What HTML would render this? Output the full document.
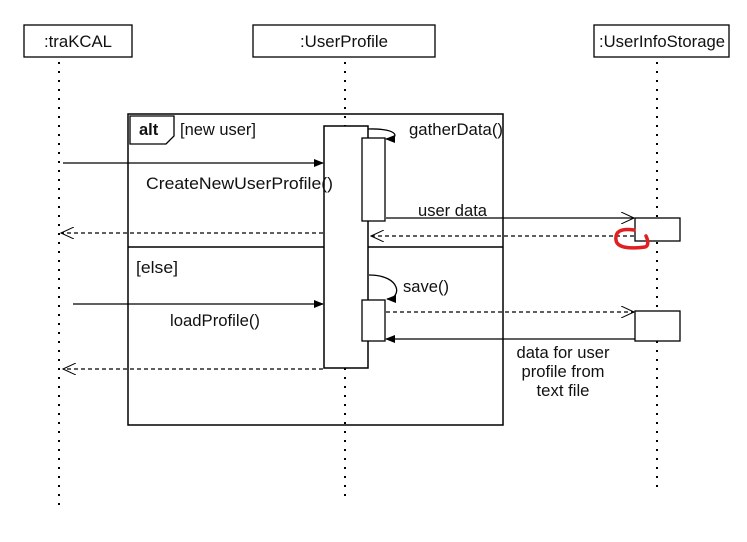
<!DOCTYPE html>
<html><head><meta charset="utf-8"><style>
html,body{margin:0;padding:0;background:#fff;}
svg{display:block;}
text{font-family:"Liberation Sans",Arial,sans-serif;font-size:16.5px;fill:#111;}
</style></head><body>
<svg width="747" height="542" viewBox="0 0 747 542" xmlns="http://www.w3.org/2000/svg">
<defs>
<marker id="fa" markerWidth="10" markerHeight="10" refX="9" refY="5" orient="auto" markerUnits="userSpaceOnUse"><path d="M0,1 L10,5 L0,9 Z" fill="#000"/></marker>
<marker id="oa" markerWidth="14" markerHeight="12" refX="13" refY="6" orient="auto" markerUnits="userSpaceOnUse"><path d="M0,0 L13,6 L0,12" fill="none" stroke="#000" stroke-width="1"/></marker>
</defs>
<g stroke="#000" stroke-width="2" stroke-dasharray="2 7" fill="none">
<line x1="59" y1="62" x2="59" y2="512"/>
<line x1="345" y1="62" x2="345" y2="502"/>
<line x1="657" y1="62" x2="657" y2="488"/>
</g>
<g fill="#fff" stroke="#000" stroke-width="1.3">
<rect x="24" y="25" width="108" height="32"/>
<rect x="253" y="25" width="182" height="32"/>
<rect x="594" y="25" width="135" height="32"/>
</g>
<text x="78" y="47" text-anchor="middle" textLength="68" lengthAdjust="spacingAndGlyphs">:traKCAL</text>
<text x="344" y="47" text-anchor="middle" textLength="88" lengthAdjust="spacingAndGlyphs">:UserProfile</text>
<text x="662" y="47" text-anchor="middle" textLength="126" lengthAdjust="spacingAndGlyphs">:UserInfoStorage</text>
<rect x="128" y="114" width="375" height="311" fill="none" stroke="#000" stroke-width="1.5"/>
<line x1="128" y1="247" x2="503" y2="247" stroke="#000" stroke-width="1.5"/>
<path d="M130,116 L174,116 L174,136 L166,144 L130,144 Z" fill="#fff" stroke="#000" stroke-width="1.3"/>
<text x="139" y="135" font-weight="bold">alt</text>
<text x="180" y="135" textLength="76" lengthAdjust="spacingAndGlyphs">[new user]</text>
<text x="136" y="273" textLength="42" lengthAdjust="spacingAndGlyphs">[else]</text>
<rect x="324" y="126" width="44" height="242" fill="#fff" stroke="#000" stroke-width="1.5"/>
<rect x="362" y="138" width="23" height="83" fill="#fff" stroke="#000" stroke-width="1.3"/>
<rect x="362" y="300" width="23" height="41" fill="#fff" stroke="#000" stroke-width="1.3"/>
<rect x="635" y="218" width="45" height="23" fill="#fff" stroke="#000" stroke-width="1.3"/>
<rect x="635" y="311" width="45" height="30" fill="#fff" stroke="#000" stroke-width="1.3"/>
<line x1="63" y1="163" x2="323" y2="163" stroke="#000" stroke-width="1.3" marker-end="url(#fa)"/>
<text x="146" y="189" textLength="187" lengthAdjust="spacingAndGlyphs">CreateNewUserProfile()</text>
<path d="M368,129 C400,128 400,139 386,139" fill="none" stroke="#000" stroke-width="1.3" marker-end="url(#fa)"/>
<text x="409" y="135" textLength="94" lengthAdjust="spacingAndGlyphs">gatherData()</text>
<line x1="386" y1="218" x2="634" y2="218" stroke="#000" stroke-width="1.2" marker-end="url(#oa)"/>
<text x="418" y="216" textLength="69" lengthAdjust="spacingAndGlyphs">user data</text>
<line x1="634" y1="236" x2="371" y2="236" stroke="#000" stroke-width="1.2" stroke-dasharray="4 3" marker-end="url(#oa)"/>
<line x1="323" y1="233" x2="61" y2="233" stroke="#000" stroke-width="1.2" stroke-dasharray="4 3" marker-end="url(#oa)"/>
<path d="M369,275 C402,275 402,299 387,299" fill="none" stroke="#000" stroke-width="1.3" marker-end="url(#fa)"/>
<text x="403" y="292" textLength="46" lengthAdjust="spacingAndGlyphs">save()</text>
<line x1="73" y1="304" x2="323" y2="304" stroke="#000" stroke-width="1.3" marker-end="url(#fa)"/>
<text x="170" y="326" textLength="90" lengthAdjust="spacingAndGlyphs">loadProfile()</text>
<line x1="386" y1="312" x2="634" y2="312" stroke="#000" stroke-width="1.2" stroke-dasharray="4 3" marker-end="url(#oa)"/>
<line x1="635" y1="339" x2="386" y2="339" stroke="#000" stroke-width="1.3" marker-end="url(#fa)"/>
<text x="563" y="358" text-anchor="middle" textLength="93" lengthAdjust="spacingAndGlyphs">data for user</text>
<text x="563" y="377" text-anchor="middle" textLength="83" lengthAdjust="spacingAndGlyphs">profile from</text>
<text x="563" y="396" text-anchor="middle" textLength="53" lengthAdjust="spacingAndGlyphs">text file</text>
<line x1="323" y1="369" x2="63" y2="369" stroke="#000" stroke-width="1.2" stroke-dasharray="4 3" marker-end="url(#oa)"/>
<path d="M634,230 C620,228 615,232 616,240 C617,248 630,249 645,247 C649,246 648,240 646,236" fill="none" stroke="#e02020" stroke-width="3.5" stroke-linecap="round"/>
</svg>
</body></html>
